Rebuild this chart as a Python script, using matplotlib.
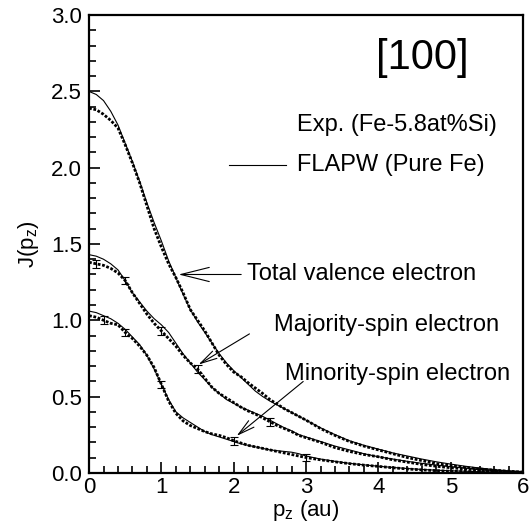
import numpy as np
import matplotlib
matplotlib.use("Agg")
import matplotlib.pyplot as plt
from matplotlib.ticker import MultipleLocator

plt.rcParams['font.family'] = ['Liberation Sans', 'DejaVu Sans']
plt.rcParams['mathtext.default'] = 'regular'

# momentum grid (au)
pz = [0.0, 0.1, 0.2, 0.3, 0.4, 0.5, 0.6, 0.7, 0.8, 0.9,
      1.0, 1.1, 1.2, 1.3, 1.4, 1.5, 1.6, 1.7, 1.8, 1.9,
      2.0, 2.1, 2.2, 2.3, 2.4, 2.5, 2.6, 2.7, 2.8, 2.9,
      3.0, 3.2, 3.4, 3.6, 3.8, 4.0, 4.2, 4.4, 4.6, 4.8,
      5.0, 5.2, 5.4, 5.6, 5.8, 6.0]

# experiment (Fe-5.8at%Si)
exp_total = [2.39, 2.38, 2.35, 2.31, 2.26, 2.15, 2.03, 1.90, 1.75, 1.60,
             1.48, 1.37, 1.28, 1.18, 1.07, 1.00, 0.93, 0.85, 0.77, 0.71,
             0.66, 0.63, 0.59, 0.555, 0.52, 0.48, 0.45, 0.42, 0.395, 0.37,
             0.345, 0.29, 0.245, 0.205, 0.175, 0.15, 0.125, 0.10, 0.08, 0.06,
             0.047, 0.035, 0.025, 0.017, 0.01, 0.005]
exp_major = [1.38, 1.37, 1.36, 1.34, 1.31, 1.26, 1.18, 1.11, 1.04, 0.98,
             0.93, 0.88, 0.83, 0.77, 0.72, 0.68, 0.62, 0.56, 0.52, 0.49,
             0.46, 0.43, 0.405, 0.385, 0.36, 0.335, 0.31, 0.29, 0.27, 0.245,
             0.23, 0.20, 0.165, 0.14, 0.12, 0.105, 0.085, 0.07, 0.055, 0.043,
             0.033, 0.025, 0.017, 0.011, 0.007, 0.003]
exp_minor = [1.03, 1.02, 1.00, 0.98, 0.97, 0.92, 0.88, 0.83, 0.77, 0.69,
             0.58, 0.47, 0.39, 0.34, 0.31, 0.29, 0.27, 0.255, 0.245, 0.23,
             0.21, 0.195, 0.18, 0.17, 0.16, 0.15, 0.14, 0.13, 0.12, 0.11,
             0.10, 0.085, 0.072, 0.06, 0.05, 0.042, 0.033, 0.025, 0.019, 0.014,
             0.01, 0.008, 0.006, 0.004, 0.003, 0.002]

# FLAPW (pure Fe)
calc_total = [2.50, 2.48, 2.44, 2.37, 2.28, 2.16, 2.04, 1.91, 1.77, 1.64,
              1.52, 1.39, 1.28, 1.17, 1.07, 0.99, 0.92, 0.85, 0.78, 0.72,
              0.67, 0.625, 0.58, 0.535, 0.50, 0.47, 0.445, 0.42, 0.395, 0.37,
              0.345, 0.295, 0.25, 0.21, 0.18, 0.155, 0.13, 0.11, 0.09, 0.072,
              0.057, 0.043, 0.031, 0.021, 0.012, 0.006]
calc_major = [1.43, 1.42, 1.40, 1.37, 1.33, 1.26, 1.18, 1.12, 1.06, 1.01,
              0.97, 0.92, 0.85, 0.78, 0.72, 0.66, 0.61, 0.56, 0.52, 0.48,
              0.455, 0.43, 0.41, 0.39, 0.37, 0.345, 0.32, 0.295, 0.275, 0.25,
              0.235, 0.205, 0.175, 0.15, 0.125, 0.105, 0.09, 0.075, 0.062, 0.05,
              0.04, 0.031, 0.023, 0.015, 0.009, 0.004]
calc_minor = [1.06, 1.05, 1.03, 1.01, 0.98, 0.94, 0.89, 0.84, 0.77, 0.68,
              0.58, 0.48, 0.40, 0.36, 0.33, 0.30, 0.27, 0.25, 0.235, 0.22,
              0.205, 0.19, 0.18, 0.17, 0.16, 0.15, 0.145, 0.14, 0.135, 0.125,
              0.11, 0.09, 0.075, 0.062, 0.052, 0.043, 0.035, 0.028, 0.022, 0.017,
              0.013, 0.01, 0.007, 0.005, 0.003, 0.002]

# a few experimental error bars
err_x_major = [0.1, 0.5, 1.0, 1.5, 2.5]
err_y_major = [1.37, 1.26, 0.93, 0.68, 0.335]
err_x_minor = [0.2, 0.5, 1.0, 2.0, 3.0]
err_y_minor = [1.00, 0.92, 0.58, 0.21, 0.10]
err_size = 0.025

fig = plt.figure(figsize=(5.30, 5.23), dpi=100)
ax = fig.add_axes([0.168, 0.096, 0.819, 0.875])

for ye in [exp_total, exp_major, exp_minor]:
    ax.plot(pz, ye, color='black', lw=2.0, ls=(0, (1, 0.6)))
for yc in [calc_total, calc_major, calc_minor]:
    ax.plot(pz, yc, color='black', lw=0.8)

ax.errorbar(err_x_major, err_y_major, yerr=err_size, fmt='none', ecolor='black',
            elinewidth=0.8, capsize=3, capthick=0.8)
ax.errorbar(err_x_minor, err_y_minor, yerr=err_size, fmt='none', ecolor='black',
            elinewidth=0.8, capsize=3, capthick=0.8)

ax.set_xlim(0, 6)
ax.set_ylim(0, 3)
ax.xaxis.set_major_locator(MultipleLocator(1))
ax.xaxis.set_minor_locator(MultipleLocator(0.2))
ax.yaxis.set_major_locator(MultipleLocator(0.5))
ax.yaxis.set_minor_locator(MultipleLocator(0.1))
ax.yaxis.set_major_formatter(plt.FormatStrFormatter('%.1f'))
ax.tick_params(which='both', direction='in', top=False, right=False,
               labelsize=16, width=1.2)
ax.tick_params(axis='y', pad=5)
ax.tick_params(axis='x', pad=3)
ax.tick_params(which='major', length=8)
ax.tick_params(which='minor', length=5)
for s in ax.spines.values():
    s.set_linewidth(1.6)

ax.set_xlabel('p$_z$ (au)', fontsize=16, labelpad=0)
ax.set_ylabel('J(p$_z$)', fontsize=16, labelpad=7)

# legend and labels
fs = 17
ax.text(4.6, 2.72, '[100]', fontsize=30, ha='center', va='center')
ax.text(2.88, 2.28, 'Exp. (Fe-5.8at%Si)', fontsize=fs, va='center')
ax.plot([1.93, 2.72], [2.02, 2.02], color='black', lw=0.8)
ax.text(2.88, 2.02, 'FLAPW (Pure Fe)', fontsize=fs, va='center')

arrow = dict(arrowstyle='->,head_length=1.2,head_width=0.3', color='black', lw=0.8)
ax.annotate('Total valence electron', xy=(1.2, 1.30), xytext=(2.18, 1.30),
            fontsize=fs, va='center', arrowprops=arrow)
ax.annotate('', xy=(1.48, 0.70), xytext=(2.25, 0.92), arrowprops=arrow)
ax.text(2.55, 0.97, 'Majority-spin electron', fontsize=fs, va='center')
ax.annotate('', xy=(2.01, 0.23), xytext=(2.99, 0.61), arrowprops=arrow)
ax.text(2.71, 0.65, 'Minority-spin electron', fontsize=fs, va='center')

fig.savefig('out.png', dpi=100)
